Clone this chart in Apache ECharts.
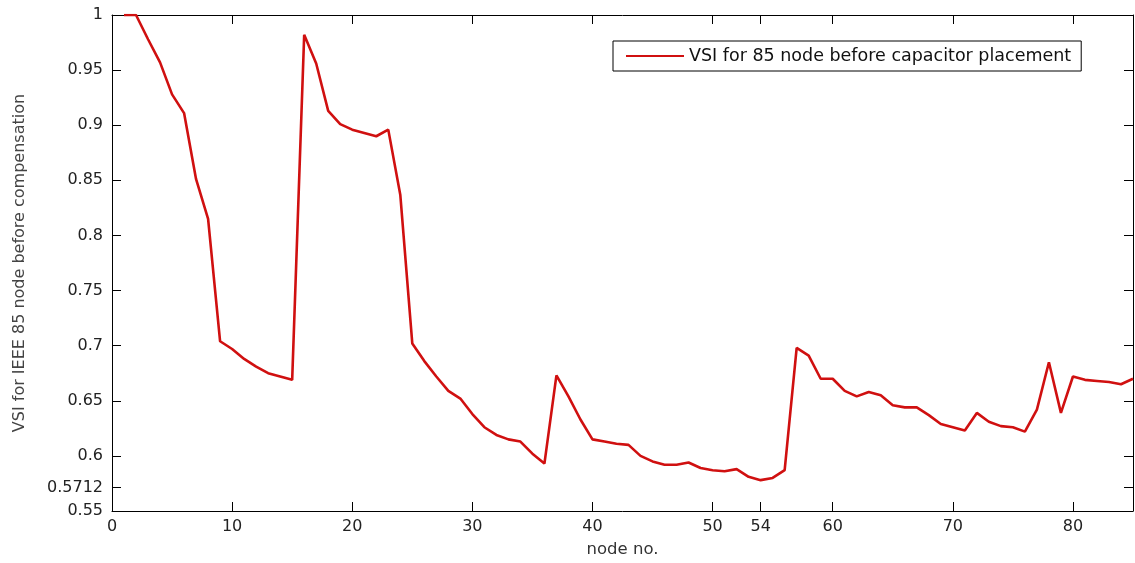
<!DOCTYPE html>
<html>
<head>
<meta charset="utf-8">
<script src="https://cdn.jsdelivr.net/npm/echarts@6/dist/echarts.min.js"></script>
<style>
html, body { margin: 0; padding: 0; background: #fff; }
#chart { width: 1135px; height: 563px; }
</style>
</head>
<body>
<div id="chart"></div>
<script>
// VSI per node, 85 bus system, before compensation
const nodes = []
for (let i = 1; i <= 85; i++) nodes.push(i)

const vsi = [
    1.000, 1.000, 0.978, 0.957, 0.928, 0.911, 0.851, 0.815, 0.704, 0.697,
    0.688, 0.681, 0.675, 0.672, 0.669, 0.982, 0.956, 0.913, 0.901, 0.896,
    0.893, 0.890, 0.896, 0.837, 0.702, 0.686, 0.672, 0.659, 0.652, 0.638,
    0.626, 0.619, 0.615, 0.613, 0.602, 0.593, 0.673, 0.654, 0.633, 0.615,
    0.613, 0.611, 0.610, 0.600, 0.595, 0.592, 0.592, 0.594, 0.589, 0.587,
    0.586, 0.588, 0.581, 0.578, 0.580, 0.587, 0.698, 0.691, 0.670, 0.670,
    0.659, 0.654, 0.658, 0.655, 0.646, 0.644, 0.644, 0.637, 0.629, 0.626,
    0.623, 0.639, 0.631, 0.627, 0.626, 0.622, 0.642, 0.685, 0.639, 0.672,
    0.669, 0.668, 0.667, 0.665, 0.670
]

const xTicks = [0, 10, 20, 30, 40, 50, 54, 60, 70, 80]
const yTicks = [0.55, 0.5712, 0.6, 0.65, 0.7, 0.75, 0.8, 0.85, 0.9, 0.95, 1]

const seriesName = 'VSI for 85 node before capacitor placement'
const lineColor = '#d01010'
const font = 'DejaVu Sans, sans-serif'

const axisLine = { show: true, onZero: false, lineStyle: { color: '#000', width: 1 } }

const options = {
    animation: false,
    grid: { left: 112, right: 2, top: 15, bottom: 50 },
    legend: {
        left: 613,
        top: 41,
        padding: [6, 10, 6, 12],
        borderColor: '#000',
        borderWidth: 1,
        itemWidth: 58,
        itemHeight: 14,
        itemStyle: { opacity: 0 },
        textStyle: { fontSize: 17.5, color: '#111', fontFamily: font },
        data: [seriesName]
    },
    xAxis: [
        {
            type: 'value',
            min: 0,
            max: 85,
            name: 'node no.',
            nameLocation: 'middle',
            nameGap: 30,
            nameTextStyle: { fontSize: 16.5, color: '#333', fontFamily: font },
            axisLine: axisLine,
            axisTick: { inside: true, length: 9, customValues: xTicks, lineStyle: { color: '#000' } },
            axisLabel: { customValues: xTicks, fontSize: 16, color: '#222', margin: 8, fontFamily: font },
            splitLine: { show: false }
        },
        {
            type: 'value',
            position: 'top',
            min: 0,
            max: 85,
            axisLine: axisLine,
            axisTick: { inside: true, length: 9, customValues: xTicks, lineStyle: { color: '#000' } },
            axisLabel: { show: false },
            splitLine: { show: false }
        }
    ],
    yAxis: [
        {
            type: 'value',
            min: 0.55,
            max: 1,
            name: 'VSI for IEEE 85 node before compensation',
            nameLocation: 'middle',
            nameGap: 84,
            nameTextStyle: { fontSize: 16, color: '#444', fontFamily: font },
            axisLine: axisLine,
            axisTick: { inside: true, length: 9, customValues: yTicks, lineStyle: { color: '#000' } },
            axisLabel: { customValues: yTicks, fontSize: 16, color: '#222', margin: 9, fontFamily: font },
            splitLine: { show: false }
        },
        {
            type: 'value',
            position: 'right',
            min: 0.55,
            max: 1,
            axisLine: axisLine,
            axisTick: { inside: true, length: 9, customValues: yTicks, lineStyle: { color: '#000' } },
            axisLabel: { show: false },
            splitLine: { show: false }
        }
    ],
    series: [
        {
            name: seriesName,
            type: 'line',
            symbol: 'none',
            color: lineColor,
            lineStyle: { color: lineColor, width: 2.6 },
            data: nodes.map((n, i) => [n, vsi[i]])
        }
    ]
}

const chart = echarts.init(document.getElementById('chart'))
chart.setOption(options)
</script>
</body>
</html>
